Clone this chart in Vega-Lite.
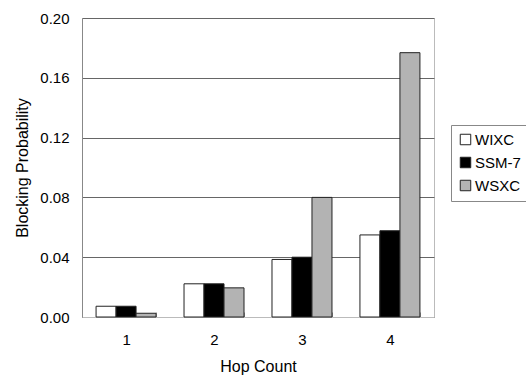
{
  "$schema": "https://vega.github.io/schema/vega-lite/v6.json",
  "autosize": "none",
  "width": 352,
  "height": 299,
  "padding": {"left": 82, "top": 18, "right": 92, "bottom": 58},
  "background": "white",
  "config": {
    "font": "Liberation Sans",
    "view": {"stroke": "#bbbbbb", "strokeWidth": 1}
  },
  "data": {
    "values": [
      {"hop": "1", "series": "WIXC", "p": 0.0072},
      {"hop": "1", "series": "SSM-7", "p": 0.0072},
      {"hop": "1", "series": "WSXC", "p": 0.0025},
      {"hop": "2", "series": "WIXC", "p": 0.0222},
      {"hop": "2", "series": "SSM-7", "p": 0.0222},
      {"hop": "2", "series": "WSXC", "p": 0.0195},
      {"hop": "3", "series": "WIXC", "p": 0.0385},
      {"hop": "3", "series": "SSM-7", "p": 0.0400},
      {"hop": "3", "series": "WSXC", "p": 0.0800},
      {"hop": "4", "series": "WIXC", "p": 0.0549},
      {"hop": "4", "series": "SSM-7", "p": 0.0577},
      {"hop": "4", "series": "WSXC", "p": 0.1768}
    ]
  },
  "mark": {"type": "bar", "stroke": "#222222", "strokeWidth": 1},
  "encoding": {
    "x": {
      "field": "hop",
      "type": "ordinal",
      "scale": {"paddingInner": 0.318, "paddingOuter": 0.16},
      "axis": {
        "title": "Hop Count",
        "titleFontSize": 16,
        "titleFontWeight": "normal",
        "titleColor": "#000000",
        "titlePadding": 11,
        "labelAngle": 0,
        "labelFontSize": 15,
        "labelColor": "#000000",
        "labelPadding": 20,
        "domainColor": "#bbbbbb",
        "tickBand": "extent",
        "tickSize": -5,
        "tickColor": "#999999",
        "grid": false
      }
    },
    "xOffset": {
      "field": "series",
      "type": "nominal",
      "sort": ["WIXC", "SSM-7", "WSXC"],
      "scale": {"paddingInner": 0, "paddingOuter": 0}
    },
    "y": {
      "field": "p",
      "type": "quantitative",
      "scale": {"domain": [0, 0.2], "nice": false},
      "axis": {
        "title": "Blocking Probability",
        "titleFontSize": 16,
        "titleFontWeight": "normal",
        "titleColor": "#000000",
        "titlePadding": 9,
        "values": [0, 0.04, 0.08, 0.12, 0.16, 0.2],
        "format": ".2f",
        "labelFontSize": 15,
        "labelColor": "#000000",
        "labelPadding": 13,
        "ticks": false,
        "domainColor": "#888888",
        "grid": true,
        "gridColor": "#666666",
        "gridWidth": 1
      }
    },
    "color": {
      "field": "series",
      "type": "nominal",
      "sort": ["WIXC", "SSM-7", "WSXC"],
      "scale": {"domain": ["WIXC", "SSM-7", "WSXC"], "range": ["#ffffff", "#000000", "#b3b3b3"]},
      "legend": {
        "title": null,
        "orient": "none",
        "legendX": 369,
        "legendY": 107,
        "strokeColor": "#888888",
        "padding": 7,
        "symbolType": "square",
        "symbolSize": 110,
        "symbolStrokeColor": "#222222",
        "symbolStrokeWidth": 1,
        "labelFontSize": 15,
        "labelColor": "#000000",
        "labelOffset": 2,
        "rowPadding": 7
      }
    }
  }
}
